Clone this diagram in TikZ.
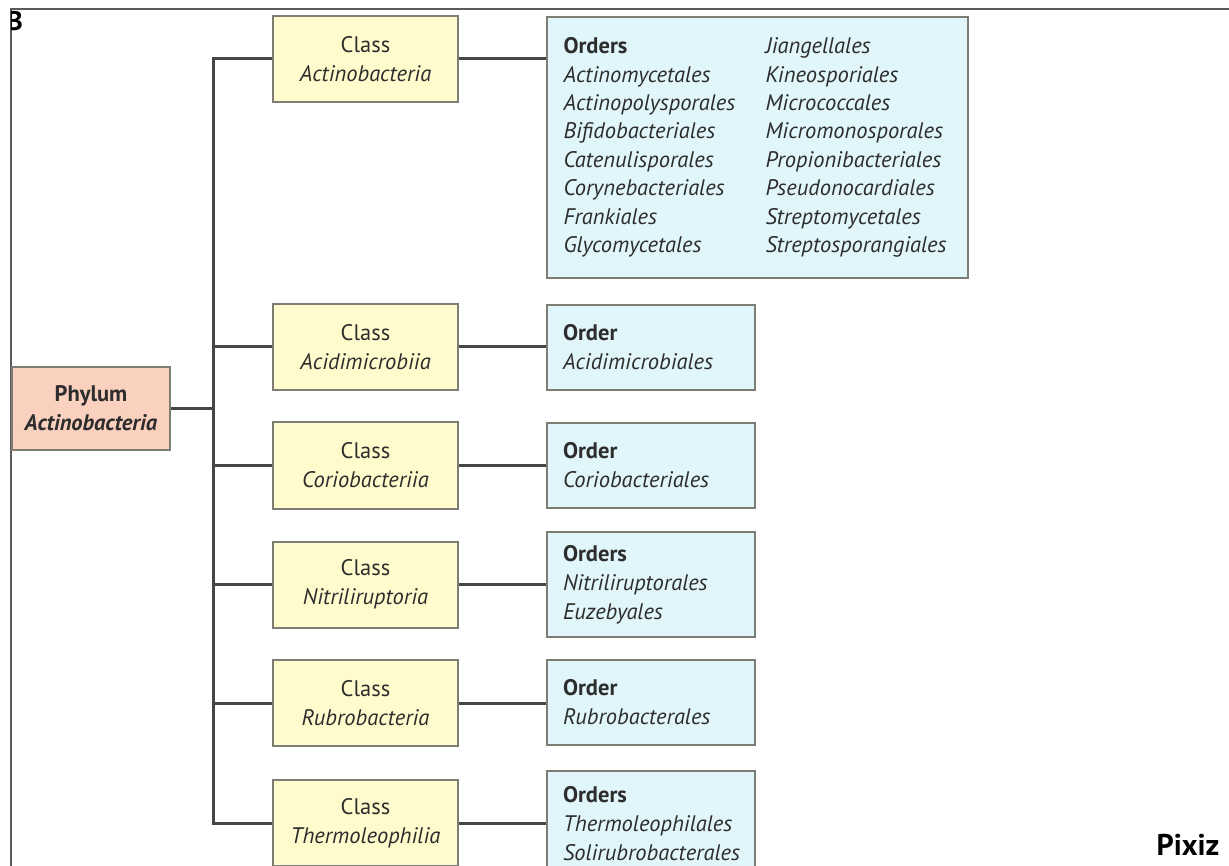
\documentclass[tikz,border=0pt]{standalone}
\usepackage{fontspec}
\setmainfont{PT Sans}
\definecolor{classfill}{RGB}{255,251,204}
\definecolor{orderfill}{RGB}{225,246,250}
\definecolor{phylfill}{RGB}{250,208,190}
\definecolor{boxline}{RGB}{125,125,115}
\definecolor{conn}{RGB}{70,70,70}
\definecolor{txt}{RGB}{45,45,45}
\definecolor{frame}{RGB}{90,90,90}
\tikzset{
  basebox/.style={draw=boxline, line width=2pt, text=txt, inner sep=0pt,
    font=\fontsize{22.5}{29}\selectfont},
  classbox/.style={basebox, fill=classfill, minimum width=185pt, minimum height=86pt, align=center},
  orderbox/.style={basebox, fill=orderfill, minimum width=208pt, text width=176pt, inner xsep=16pt, align=left},
  phylbox/.style={basebox, fill=phylfill, minimum width=158pt, minimum height=83pt, align=center},
  link/.style={draw=conn, line width=3pt}
}
\begin{document}
\begin{tikzpicture}[x=1pt,y=-1pt]
\useasboundingbox (0,0) rectangle (1229,866);
\clip (0,0) rectangle (1229,866);
\fill[white] (0,0) rectangle (1229,866);
% frame
\draw[frame, line width=2pt] (10.5,866) -- (10.5,9.5) -- (1229,9.5);
\begin{scope}
\clip (11.5,10.5) rectangle (60,60);
\node[anchor=east, font=\fontsize{27}{27}\selectfont\bfseries, text=black, inner sep=0pt] (lbl) at (23,21) {B};
\end{scope}
% phylum
\node[phylbox] (phy) at (91,408.5) {\textbf{Phylum}\\\textbf{\textit{Actinobacteria}}};
% classes
\node[classbox] (c1) at (365.5,59) {Class\\\textit{Actinobacteria}};
\node[classbox] (c2) at (365.5,347) {Class\\\textit{Acidimicrobiia}};
\node[classbox] (c3) at (365.5,465.5) {Class\\\textit{Coriobacteriia}};
\node[classbox] (c4) at (365.5,584.5) {Class\\\textit{Nitriliruptoria}};
\node[classbox] (c5) at (365.5,703) {Class\\\textit{Rubrobacteria}};
\node[classbox] (c6) at (365.5,823) {Class\\\textit{Thermoleophilia}};
% orders
\node[basebox, fill=orderfill, minimum width=421pt, minimum height=261pt, inner xsep=16pt, anchor=center] (o1) at (757.5,147.5)
  {\parbox[c]{388pt}{\fontsize{22.5}{28.4}\selectfont
   \parbox[t]{202pt}{\textbf{Orders}\\\itshape Actinomycetales\\Actinopolysporales\\Bifidobacteriales\\Catenulisporales\\Corynebacteriales\\Frankiales\\Glycomycetales}%
   \parbox[t]{186pt}{\itshape Jiangellales\\Kineosporiales\\Micrococcales\\Micromonosporales\\Propionibacteriales\\Pseudonocardiales\\Streptomycetales\\Streptosporangiales}}};
\node[orderbox, minimum height=85pt] (o2) at (651,347.5) {\textbf{Order}\\\textit{Acidimicrobiales}};
\node[orderbox, minimum height=85pt] (o3) at (651,465.5) {\textbf{Order}\\\textit{Coriobacteriales}};
\node[orderbox, minimum height=105pt] (o4) at (651,584.5) {\textbf{Orders}\\\textit{Nitriliruptorales}\\\textit{Euzebyales}};
\node[orderbox, minimum height=85pt] (o5) at (651,702.5) {\textbf{Order}\\\textit{Rubrobacterales}};
\node[orderbox, minimum height=105pt, anchor=north] (o6) at (651,770) {\textbf{Orders}\\\textit{Thermoleophilales}\\\textit{Solirubrobacterales}};
% trunk
\coordinate (trunk) at (213,0);
\draw[link] (c1.west) -- (c1.west -| trunk) -- (c6.west -| trunk) -- (c6.west);
\foreach \c in {c2,c3,c4,c5} \draw[link] (\c.west) -- (\c.west -| trunk);
\draw[link] (phy.east) -- (phy.east -| trunk);
\foreach \a/\b in {c1/o1,c2/o2,c3/o3,c4/o4,c5/o5,c6/o6} \draw[link] (\a.east) -- (\a.east -| \b.west);
% watermark
\node[font=\fontsize{30}{30}\selectfont\bfseries, text=black, inner sep=0pt] (wm) at (1188,845) {Pixiz};
\end{tikzpicture}
\end{document}
